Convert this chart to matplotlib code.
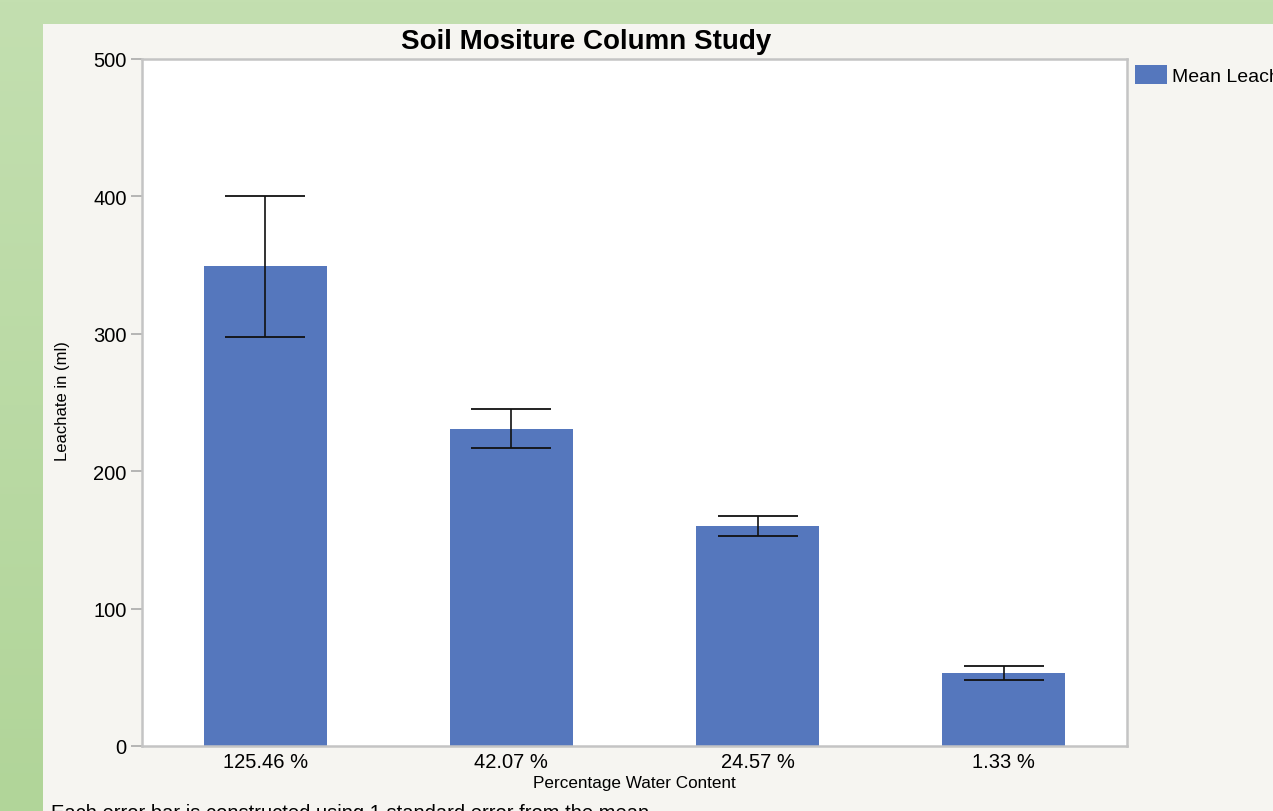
import matplotlib.pyplot as plt
import numpy as np
from matplotlib.patches import Rectangle
from matplotlib.colors import LinearSegmentedColormap

# data
categories = ['125.46 %', '42.07 %', '24.57 %', '1.33 %']
mean_leachate = [349, 231, 160, 53]
std_err = [51, 14, 7.5, 5]
y_ticks = [0, 100, 200, 300, 400, 500]

plt.rcParams['font.family'] = ['Liberation Sans', 'DejaVu Sans']

fig = plt.figure(figsize=(12.73, 8.12), dpi=100)
fig.patch.set_facecolor('#c3dfb0')

# green background gradient + light panel
bg = fig.add_axes([0, 0, 1, 1], zorder=-10)
grad = np.linspace(0, 1, 256).reshape(-1, 1)
cmap = LinearSegmentedColormap.from_list('g', ['#c3dfb0', '#b1d599'])
bg.imshow(grad, aspect='auto', cmap=cmap, extent=[0, 1, 0, 1], origin='upper')
bg.add_patch(Rectangle((43 / 1273, 0), 1, 1 - 25 / 812, facecolor='#f6f5f1',
                       edgecolor='none'))
bg.set_xlim(0, 1)
bg.set_ylim(0, 1)
bg.axis('off')

ax = fig.add_axes([142 / 1273, 65 / 812, 985 / 1273, 687 / 812])
ax.set_facecolor('white')
x = np.arange(len(categories))
ax.bar(x, mean_leachate, width=0.5, color='#5577bd', label='Mean Leachate', zorder=2)
ax.errorbar(x, mean_leachate, yerr=std_err, fmt='none', ecolor='#111111',
            elinewidth=1.2, capsize=29, capthick=1.3, zorder=3)

ax.set_xlim(-0.5, 3.5)
ax.set_ylim(0, 500)
ax.set_yticks(y_ticks)
ax.set_xticks(x)
ax.set_xticklabels(categories)
ax.tick_params(axis='x', length=0, labelsize=14.5, pad=4)
ax.tick_params(axis='y', length=8, width=1.2, color='#aaaaaa', labelsize=14.5, pad=3)
for s in ax.spines.values():
    s.set_color('#c4c4c4')
    s.set_linewidth(1.8)

ax.set_xlabel('Percentage Water Content', fontsize=12.3, labelpad=3)
fig.text(62 / 1273, 1 - 401 / 812, 'Leachate in (ml)', rotation=90,
         ha='center', va='center', fontsize=12)

fig.text(586 / 1273, 1 - 42 / 812, 'Soil Mositure Column Study', ha='center',
         va='center', fontsize=20, fontweight='bold')

leg = fig.legend(*ax.get_legend_handles_labels(), loc='upper left',
                 bbox_to_anchor=(1135 / 1273, 1 - 66 / 812), frameon=False,
                 fontsize=14, handlelength=1.65, handleheight=1.1,
                 borderaxespad=0, borderpad=0, handletextpad=0.25)

fig.text(51 / 1273, 1 - 804 / 812,
         'Each error bar is constructed using 1 standard error from the mean.',
         ha='left', va='top', fontsize=14.5)

fig.savefig('out.png', dpi=100)
